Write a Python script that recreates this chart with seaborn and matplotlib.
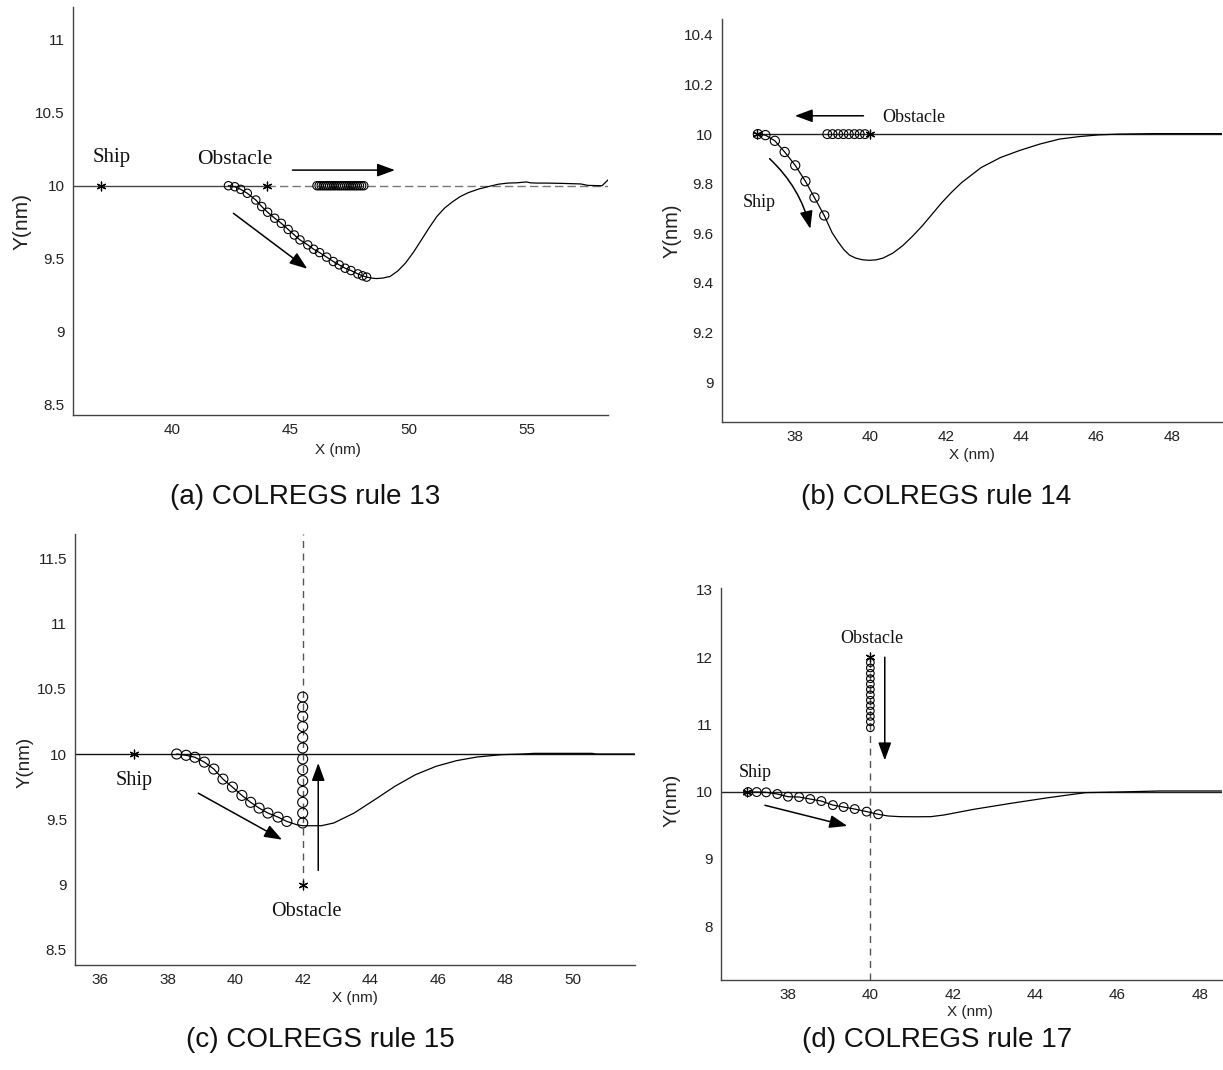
import matplotlib
matplotlib.use("Agg")
import matplotlib.pyplot as plt
import seaborn as sns

sns.set_theme(style="white")
plt.rcParams["font.family"] = ["Liberation Sans", "DejaVu Sans"]
SERIF = ["Liberation Serif", "DejaVu Serif"]

# ---------------- (a) COLREGS rule 13 : overtaking ----------------
a_ship_x = [42.38, 42.65, 42.90, 43.18, 43.54, 43.79, 44.04, 44.34, 44.62, 44.91, 45.17, 45.41,
            45.74, 45.99, 46.24, 46.54, 46.82, 47.07, 47.32, 47.57, 47.86, 48.06, 48.23]
a_ship_y = [10.0, 9.993, 9.975, 9.948, 9.902, 9.857, 9.818, 9.777, 9.742, 9.700, 9.662, 9.628,
            9.594, 9.564, 9.541, 9.510, 9.480, 9.457, 9.434, 9.418, 9.395, 9.382, 9.373]
a_tail_x = [48.45, 48.64, 48.90, 49.22, 49.55, 49.88, 50.22, 50.55, 50.88, 51.21, 51.54, 51.87,
            52.20, 52.53, 52.95, 53.36, 53.80, 54.20, 54.60, 55.00, 55.15, 55.43, 55.84, 56.50,
            57.30, 57.60, 58.20, 58.45]
a_tail_y = [9.366, 9.363, 9.366, 9.377, 9.415, 9.470, 9.545, 9.628, 9.712, 9.790, 9.848, 9.890,
            9.926, 9.952, 9.976, 9.993, 10.010, 10.018, 10.020, 10.026, 10.020, 10.018, 10.018,
            10.016, 10.012, 10.002, 10.000, 10.040]
a_obst_x = [46.13, 46.22, 46.31, 46.40, 46.49, 46.58, 46.67, 46.76, 46.85, 46.94, 47.03, 47.12,
            47.21, 47.30, 47.39, 47.48, 47.57, 47.66, 47.75, 47.84, 47.93, 48.02, 48.11]
a_obst_y = [10.0] * len(a_obst_x)
a_start_x, a_start_y = [37.0, 44.0], [10.0, 10.0]

# ---------------- (b) COLREGS rule 14 : head-on ----------------
b_ship_x = [37.02, 37.22, 37.47, 37.73, 38.01, 38.28, 38.52, 38.78]
b_ship_y = [10.0, 9.996, 9.973, 9.928, 9.874, 9.810, 9.744, 9.672]
b_tail_x = [38.99, 39.15, 39.30, 39.45, 39.61, 39.80, 39.98, 40.16, 40.34, 40.60, 40.86, 41.12,
            41.38, 41.64, 41.90, 42.16, 42.42, 42.94, 43.46, 43.98, 44.50, 45.02, 45.54, 46.06,
            46.58, 47.50, 49.33]
b_tail_y = [9.602, 9.565, 9.534, 9.512, 9.500, 9.493, 9.491, 9.493, 9.500, 9.520, 9.550, 9.588,
            9.630, 9.677, 9.724, 9.766, 9.804, 9.865, 9.906, 9.935, 9.960, 9.980, 9.990, 9.997,
            10.0, 10.002, 10.002]
b_obst_x = [39.86, 39.72, 39.58, 39.43, 39.29, 39.15, 39.00, 38.86]
b_obst_y = [10.0] * len(b_obst_x)
b_start_x, b_start_y = [37.0, 40.0], [10.0, 10.0]

# ---------------- (c) COLREGS rule 15 : crossing from starboard ----------------
c_ship_x = [38.27, 38.55, 38.81, 39.09, 39.37, 39.64, 39.92, 40.20, 40.46, 40.71, 40.97, 41.27, 41.53]
c_ship_y = [10.0, 9.990, 9.975, 9.938, 9.885, 9.808, 9.747, 9.683, 9.630, 9.586, 9.548, 9.517, 9.484]
c_tail_x = [41.82, 42.00, 42.55, 42.92, 43.52, 44.13, 44.73, 45.34, 45.95, 46.55, 47.16, 47.89,
            48.49, 48.86, 50.56, 50.68, 51.82]
c_tail_y = [9.459, 9.451, 9.451, 9.472, 9.548, 9.650, 9.753, 9.842, 9.906, 9.949, 9.977, 9.995,
            10.0, 10.005, 10.005, 10.0, 10.0]
c_obst_y = [9.472, 9.548, 9.630, 9.714, 9.796, 9.880, 9.962, 10.046, 10.127, 10.210, 10.288,
            10.360, 10.436]
c_obst_x = [42.0] * len(c_obst_y)
c_start_x, c_start_y = [37.0, 42.0], [10.0, 9.0]

# ---------------- (d) COLREGS rule 17 : crossing from port ----------------
d_ship_x = [37.03, 37.24, 37.47, 37.74, 38.00, 38.27, 38.54, 38.81, 39.09, 39.35, 39.62, 39.91, 40.19]
d_ship_y = [9.994, 9.994, 9.990, 9.965, 9.925, 9.920, 9.890, 9.860, 9.800, 9.771, 9.741, 9.703, 9.663]
d_tail_x = [40.43, 40.71, 41.10, 41.47, 41.79, 42.51, 43.41, 44.32, 45.22, 46.03, 47.04, 48.54]
d_tail_y = [9.638, 9.628, 9.626, 9.628, 9.653, 9.737, 9.826, 9.910, 9.985, 9.995, 10.010, 10.010]
d_obst_y = [11.92, 11.84, 11.76, 11.68, 11.60, 11.52, 11.44, 11.36, 11.28, 11.20, 11.12, 11.04, 10.95]
d_obst_x = [40.0] * len(d_obst_y)
d_start_x, d_start_y = [37.0, 40.0], [10.0, 12.0]

captions = ["(a) COLREGS rule 13", "(b) COLREGS rule 14",
            "(c) COLREGS rule 15", "(d) COLREGS rule 17"]

W, H = 1223, 1070
fig = plt.figure(figsize=(W / 100, H / 100), dpi=100)


def px_axes(left, top, right, bottom):
    return fig.add_axes([left / W, 1 - bottom / H, (right - left) / W, (bottom - top) / H])


def style(ax, xlim, ylim, xticks, yticks, ylabel_size, ylabel_pos, xlabel_pos):
    ax.set_xlim(*xlim)
    ax.set_ylim(*ylim)
    ax.set_xticks(xticks)
    ax.set_yticks(yticks)
    ax.set_xticklabels([f"{t:g}" for t in xticks])
    ax.set_yticklabels([f"{t:g}" for t in yticks])
    sns.despine(ax=ax)
    for s in ("left", "bottom"):
        ax.spines[s].set_color("#444444")
        ax.spines[s].set_linewidth(1.0)
    ax.tick_params(direction="in", length=4, width=0.8, color="#444444",
                   labelsize=11, labelcolor="#222222", pad=6)
    ax.set_xlabel("X (nm)", fontsize=11, color="#222222", va="center")
    ax.set_ylabel("Y(nm)", fontsize=ylabel_size, color="#222222", va="center")
    ax.xaxis.set_label_coords(*xlabel_pos)
    ax.yaxis.set_label_coords(*ylabel_pos)
    ax.grid(False)


def trajectory(ax, sx, sy, tx, ty, ox, oy, st_x, st_y, ms_ship, ms_obs):
    sns.lineplot(x=sx + tx, y=sy + ty, sort=False, estimator=None, color="black",
                 linewidth=0.9, ax=ax, zorder=3)
    sns.scatterplot(x=sx, y=sy, marker="o", s=ms_ship, facecolor="none", edgecolor="black",
                    linewidth=0.8, ax=ax, zorder=4)
    sns.scatterplot(x=ox, y=oy, marker="o", s=ms_obs, facecolor="none", edgecolor="black",
                    linewidth=0.8, ax=ax, zorder=4)
    sns.scatterplot(x=st_x, y=st_y, marker=(6, 2, 0), s=40, color="black",
                    linewidth=0.9, ax=ax, zorder=5)


def arrow(ax, start, end, rad=0.0):
    ax.annotate("", xy=end, xytext=start,
                arrowprops=dict(arrowstyle="-|>,head_length=0.6,head_width=0.22",
                                mutation_scale=18, color="black", lw=1.1,
                                shrinkA=0, shrinkB=0,
                                connectionstyle=f"arc3,rad={rad}"))


def label(ax, x, y, s, size):
    ax.text(x, y, s, family=SERIF, fontsize=size, color="#111111", ha="left", va="baseline")


# (a)
ax = px_axes(73, 7, 608, 415)
ax.plot([35.8, 44.0], [10, 10], color="#444444", lw=1.0, zorder=2)
ax.plot([44.0, 58.45], [10, 10], color="#777777", lw=1.0, ls=(0, (6, 3)), zorder=2)
trajectory(ax, a_ship_x, a_ship_y, a_tail_x, a_tail_y, a_obst_x, a_obst_y,
           a_start_x, a_start_y, 36, 36)
arrow(ax, (45.09, 10.107), (49.43, 10.107))
arrow(ax, (42.59, 9.811), (45.72, 9.43))
label(ax, 36.65, 10.16, "Ship", 15)
label(ax, 41.07, 10.152, "Obstacle", 15.5)
style(ax, (35.8, 58.45), (8.427, 11.226), [40, 45, 50, 55], [8.5, 9, 9.5, 10, 10.5, 11],
      15, (-0.095, 0.475), (0.495, -0.086))

# (b)
ax = px_axes(721.7, 18.6, 1222, 421.7)
ax.plot([37.0, 49.33], [10, 10], color="#222222", lw=1.0, zorder=2)
trajectory(ax, b_ship_x, b_ship_y, b_tail_x, b_tail_y, b_obst_x, b_obst_y,
           b_start_x, b_start_y, 44, 40)
arrow(ax, (39.82, 10.074), (38.0, 10.074))
arrow(ax, (37.33, 9.901), (38.41, 9.618), rad=-0.15)
label(ax, 40.33, 10.05, "Obstacle", 13)
label(ax, 36.62, 9.707, "Ship", 13)
style(ax, (36.06, 49.33), (8.84, 10.466), [38, 40, 42, 44, 46, 48],
      [9, 9.2, 9.4, 9.6, 9.8, 10, 10.2, 10.4], 14.5, (-0.099, 0.473), (0.5, -0.083))

# (c)
ax = px_axes(75.3, 534, 634.5, 965)
ax.plot([35.27, 51.82], [10, 10], color="#111111", lw=1.0, zorder=2)
ax.plot([42.0, 42.0], [9.0, 11.684], color="#555555", lw=1.0, ls=(0, (5, 4)), zorder=2)
trajectory(ax, c_ship_x, c_ship_y, c_tail_x, c_tail_y, c_obst_x, c_obst_y,
           c_start_x, c_start_y, 52, 52)
arrow(ax, (38.91, 9.70), (41.39, 9.344))
arrow(ax, (42.46, 9.109), (42.46, 9.931))
label(ax, 36.46, 9.765, "Ship", 14.5)
label(ax, 41.07, 8.762, "Obstacle", 14.5)
style(ax, (35.27, 51.82), (8.385, 11.684), [36, 38, 40, 42, 44, 46, 48, 50],
      [8.5, 9, 9.5, 10, 10.5, 11, 11.5], 13.5, (-0.09, 0.471), (0.5, -0.0766))

# (d)
ax = px_axes(721.3, 588.3, 1222, 980)
ax.plot([36.38, 48.54], [10, 10], color="#222222", lw=1.0, zorder=2)
ax.plot([40.0, 40.0], [7.198, 12.0], color="#555555", lw=1.0, ls=(0, (5, 4)), zorder=2)
trajectory(ax, d_ship_x, d_ship_y, d_tail_x, d_tail_y, d_obst_x, d_obst_y,
           d_start_x, d_start_y, 40, 30)
arrow(ax, (40.35, 12.0), (40.35, 10.465))
arrow(ax, (37.44, 9.797), (39.44, 9.49))
label(ax, 39.26, 12.21, "Obstacle", 13)
label(ax, 36.81, 10.22, "Ship", 13)
style(ax, (36.38, 48.54), (7.198, 13.025), [38, 40, 42, 44, 46, 48], [8, 9, 10, 11, 12, 13],
      14, (-0.098, 0.459), (0.497, -0.0816))

# panel captions
for (cx, cy), text in zip([(305, 497), (936, 497), (320, 1040), (937, 1040)], captions):
    fig.text(cx / W, 1 - cy / H, text, fontsize=20, color="#111111", ha="center", va="center")

fig.savefig("out.png", dpi=100)
